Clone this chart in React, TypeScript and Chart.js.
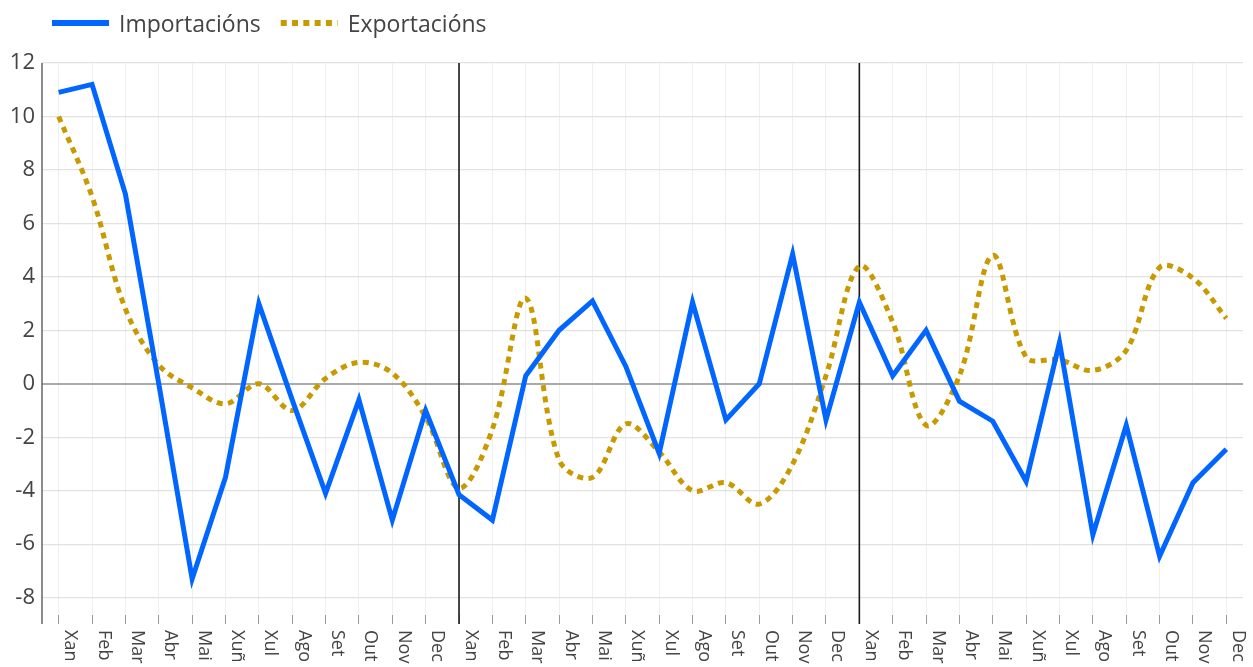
import React, { useEffect, useRef } from "react";
import { Chart, registerables } from "chart.js";

Chart.register(...registerables);

const months = ["Xan", "Feb", "Mar", "Abr", "Mai", "Xuñ", "Xul", "Ago", "Set", "Out", "Nov", "Dec"];
const labels = [...months, ...months, ...months];

const seriesNames = ["Importacións", "Exportacións"];

const importacions = [
  10.9, 11.2, 7.1, 0.0, -7.3, -3.5, 3.0, -0.6, -4.1, -0.6, -5.1, -1.0,
  -4.15, -5.1, 0.3, 2.0, 3.1, 0.65, -2.6, 3.05, -1.35, 0.0, 4.85, -1.35,
  3.05, 0.3, 2.0, -0.65, -1.4, -3.65, 1.55, -5.65, -1.55, -6.45, -3.7, -2.45,
];

const exportacions = [
  10.0, 7.0, 2.8, 0.7, -0.15, -0.75, 0.0, -1.0, 0.2, 0.8, 0.4, -1.25,
  -3.9, -1.7, 3.2, -2.85, -3.5, -1.5, -2.55, -4.0, -3.7, -4.5, -3.0, 0.3,
  4.4, 2.3, -1.55, 0.3, 4.8, 1.0, 0.9, 0.5, 1.25, 4.35, 3.95, 2.45,
];

const yTicks = [-8, -6, -4, -2, 0, 2, 4, 6, 8, 10, 12];
const yMin = -8.65;
const yMax = 12;
const dividerIndexes = [12, 24];

const FONT = "'Open Sans', sans-serif";
const TEXT = "#444";
const BLUE = "#0066ff";
const GOLD = "#c99a00";
const DOT = [6, 5.3];

const overlay = {
  id: "overlay",
  beforeDatasetsDraw(chart: any) {
    const { ctx, chartArea, scales } = chart;
    const x = scales.x;
    ctx.save();
    ctx.strokeStyle = "#666";
    ctx.lineWidth = 1.5;
    ctx.beginPath();
    ctx.moveTo(chartArea.left, chartArea.top);
    ctx.lineTo(chartArea.left, chartArea.bottom + 9);
    ctx.stroke();
    ctx.strokeStyle = "#1a1a1a";
    ctx.lineWidth = 1.6;
    for (const i of dividerIndexes) {
      const px = x.getPixelForValue(i);
      ctx.beginPath();
      ctx.moveTo(px, chartArea.top);
      ctx.lineTo(px, chartArea.bottom + 9);
      ctx.stroke();
    }
    ctx.restore();
  },
  afterDraw(chart: any) {
    const { ctx, chartArea, scales } = chart;
    const x = scales.x;
    ctx.save();
    ctx.fillStyle = TEXT;
    ctx.font = `18px ${FONT}`;
    ctx.textAlign = "left";
    ctx.textBaseline = "alphabetic";
    labels.forEach((lab, i) => {
      const px = x.getPixelForValue(i);
      ctx.save();
      ctx.translate(px + 6.5, chartArea.bottom + 15);
      ctx.rotate(Math.PI / 2);
      ctx.fillText(lab, 0, 0);
      ctx.restore();
    });

    const colors = [BLUE, GOLD];
    const dashes = [[], DOT];
    ctx.font = `23px ${FONT}`;
    ctx.textBaseline = "middle";
    let lx = 52;
    const ly = 23;
    seriesNames.forEach((name, i) => {
      ctx.save();
      ctx.strokeStyle = colors[i];
      ctx.lineWidth = 6;
      ctx.lineCap = "butt";
      ctx.setLineDash(dashes[i]);
      ctx.beginPath();
      ctx.moveTo(lx, ly);
      ctx.lineTo(lx + 57, ly);
      ctx.stroke();
      ctx.restore();
      ctx.fillStyle = TEXT;
      ctx.fillText(name, lx + 67, ly + 2);
      const w = ctx.measureText(name).width;
      lx = lx + 67 + w + 20;
    });
    ctx.restore();
  },
};

export default function App() {
  const ref = useRef<HTMLCanvasElement | null>(null);

  useEffect(() => {
    if (!ref.current) return;
    const chart = new Chart(ref.current, {
      type: "line",
      data: {
        labels,
        datasets: [
          {
            label: seriesNames[0],
            data: importacions,
            borderColor: BLUE,
            backgroundColor: BLUE,
            borderWidth: 5,
            pointRadius: 0,
            tension: 0,
            borderCapStyle: "butt",
            borderJoinStyle: "miter",
          },
          {
            label: seriesNames[1],
            data: exportacions,
            borderColor: GOLD,
            backgroundColor: GOLD,
            borderWidth: 5,
            borderDash: DOT,
            pointRadius: 0,
            tension: 0.35,
            borderCapStyle: "butt",
          },
        ],
      },
      options: {
        animation: false,
        responsive: true,
        maintainAspectRatio: false,
        layout: { padding: { top: 63, right: 10, left: 0, bottom: 0 } },
        plugins: {
          legend: { display: false },
          tooltip: { enabled: false },
        },
        scales: {
          x: {
            type: "category",
            offset: true,
            border: { display: false },
            grid: {
              offset: false,
              color: "#efefef",
              lineWidth: 1,
              drawTicks: true,
              tickLength: 9,
              tickColor: "#999",
              tickWidth: 1,
            },
            ticks: { display: false, autoSkip: false },
            afterFit: (s: any) => {
              s.height = 52;
            },
          },
          y: {
            min: yMin,
            max: yMax,
            border: { display: false },
            grid: {
              drawTicks: false,
              color: (c: any) => (c.tick && c.tick.value === 0 ? "#aaa" : "#e2e2e2"),
              lineWidth: (c: any) => (c.tick && c.tick.value === 0 ? 2 : 1.2),
            },
            ticks: {
              font: { family: FONT, size: 22 },
              color: TEXT,
              padding: 7,
            },
            afterBuildTicks: (s: any) => {
              s.ticks = yTicks.map((v) => ({ value: v }));
            },
            afterFit: (s: any) => {
              s.width = 42;
            },
          },
        },
      },
      plugins: [overlay],
    });
    return () => chart.destroy();
  }, []);

  return (
    <div style={{ position: "fixed", left: 0, top: 0, width: 1253, height: 667 }}>
      <canvas ref={ref} />
    </div>
  );
}
